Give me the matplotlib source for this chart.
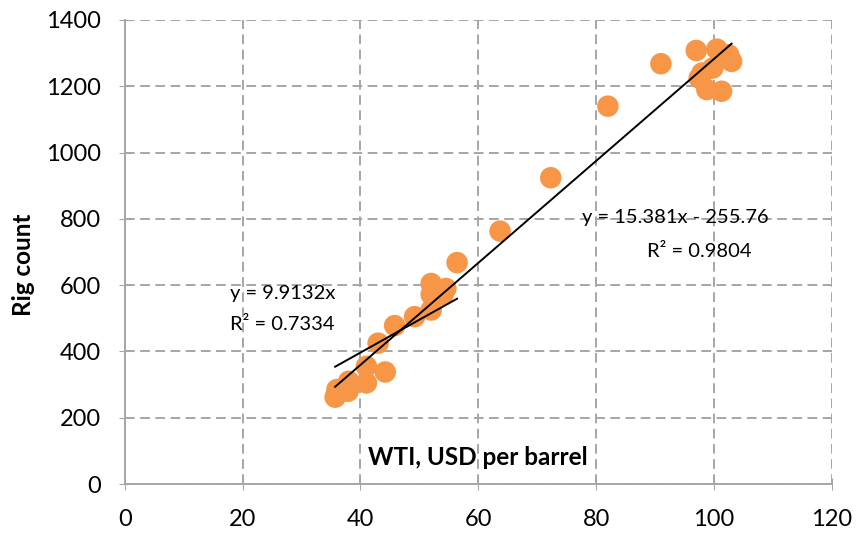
import numpy as np
import matplotlib
matplotlib.use("Agg")
import matplotlib.pyplot as plt

# WTI price vs rig count
wti = [35.7, 36.0, 37.9, 38.0, 41.0, 41.0, 44.2, 43.0, 45.8, 49.2,
       52.0, 52.0, 52.0, 54.5, 54.0, 56.4, 63.7, 72.3, 82.0, 91.0,
       97.0, 100.5, 102.5, 103.0, 98.0, 98.8, 101.3, 99.8, 97.5]
rigs = [262, 285, 280, 310, 305, 355, 338, 425, 478, 505,
        525, 605, 572, 590, 570, 668, 763, 924, 1140, 1268,
        1308, 1312, 1295, 1275, 1240, 1190, 1185, 1255, 1225]

# trendline coefficients (as shown on chart)
all_slope, all_icpt = 15.381, -255.76
low_slope = 9.9132
low_cut = 57

plt.rcParams['font.family'] = ['Lato', 'DejaVu Sans']

fig = plt.figure(figsize=(8.61, 5.34), dpi=100)
ax = fig.add_axes([0.145, 0.0936, 0.821, 0.869])

ax.scatter(wti, rigs, s=240, color='#F79646', edgecolors='none', zorder=3)

x = np.array(wti)
xs = np.array([x.min(), x.max()])
ax.plot(xs, all_slope * xs + all_icpt, color='black', lw=1.4, zorder=4)
xl = np.array([x.min(), x[x < low_cut].max()])
ax.plot(xl, low_slope * xl, color='black', lw=1.4, zorder=4)

ax.set_xlim(0, 120)
ax.set_ylim(0, 1400)
ax.set_xticks(range(0, 121, 20))
ax.set_yticks(range(0, 1401, 200))
ax.grid(True, color='#A6A6A6', linestyle=(0, (5, 2.8)), lw=1.4)
ax.set_axisbelow(True)
for s in ['top', 'right']:
    ax.spines[s].set_visible(False)
for s in ['left', 'bottom']:
    ax.spines[s].set_color('#A6A6A6')
    ax.spines[s].set_linewidth(1.4)
ax.tick_params(direction='inout', length=8, color='#A6A6A6', labelsize=17)
ax.tick_params(axis='y', pad=13)
ax.tick_params(axis='x', pad=14)

ax.set_ylabel('Rig count', fontsize=17.5, fontweight='bold', va='center')
ax.yaxis.set_label_coords(-0.144, 0.472)
ax.text(60, 80, 'WTI, USD per barrel', fontsize=17.5, fontweight='bold', ha='center', va='center')

ax.text(93.4, 803, 'y = 15.381x - 255.76', fontsize=14.5, ha='center', va='center')
ax.text(97.5, 700, 'R² = 0.9804', fontsize=14.5, ha='center', va='center')
ax.text(26.8, 576, 'y = 9.9132x', fontsize=14.5, ha='center', va='center')
ax.text(26.8, 480, 'R² = 0.7334', fontsize=14.5, ha='center', va='center')

plt.savefig('out.png')
